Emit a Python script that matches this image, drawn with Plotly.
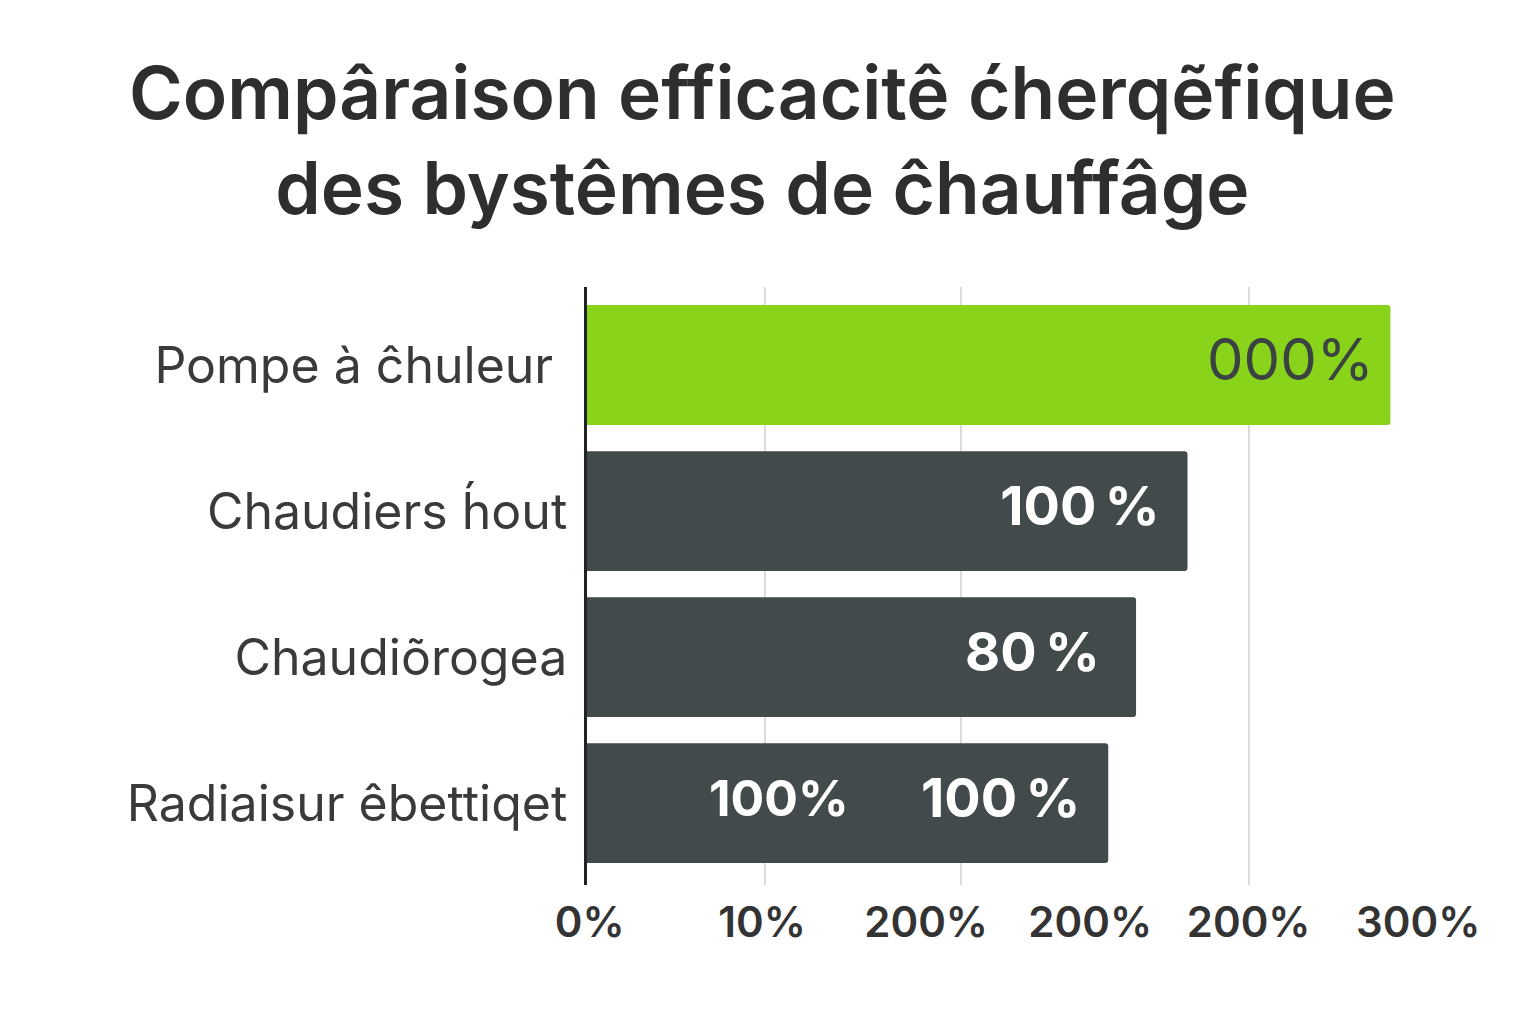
import plotly.graph_objects as go

# data
systems = ["Pompe à ĉhuleur ", "Chaudiers h\u0301out", "Chaudiõrogea", "Radiaisur êbettiqet"]
efficiency = [289, 216, 197.5, 187.5]
bar_labels = ["000%", "100\u202f%", "80\u202f%", "100\u202f%"]
extra_label_system = ["Radiaisur êbettiqet"]
extra_label_value = [69]
extra_label_text = ["100%"]

tick_vals = [1, 63, 122, 181, 238, 299]
tick_text = ["0%", "10%", "200%", "200%", "200%", "300%"]
grid_vals = [64, 134.5, 238, 300]

GREEN = "#8ad31b"
DARK = "#424a4b"
# distance of each value text from its bar end, in axis units
label_pad = [6, 10, 13, 10]

colors = [GREEN if i == 0 else DARK for i in range(len(systems))]

fig = go.Figure()

# bars live on the gridline axis
fig.add_trace(go.Bar(
    y=systems,
    x=efficiency,
    orientation="h",
    width=0.82,
    marker=dict(color=colors, line=dict(width=0), cornerradius=3),
    hoverinfo="skip",
))

# value labels inside the bars, right aligned near the bar end
fig.add_trace(go.Scatter(
    y=systems,
    x=[v - p for v, p in zip(efficiency, label_pad)],
    mode="text",
    text=bar_labels,
    textposition="middle left",
    textfont=dict(
        family="Inter",
        size=[58, 54, 54, 54],
        color=["#3b4242", "white", "white", "white"],
        weight=[400, 700, 700, 700],
    ),
    cliponaxis=False,
    hoverinfo="skip",
    xaxis="x2",
))

fig.add_trace(go.Scatter(
    y=extra_label_system,
    x=extra_label_value,
    mode="text",
    text=extra_label_text,
    textposition="middle center",
    textfont=dict(family="Inter", size=50, color="white", weight=700),
    cliponaxis=False,
    hoverinfo="skip",
    xaxis="x2",
))

fig.update_layout(
    width=1520,
    height=1008,
    paper_bgcolor="white",
    plot_bgcolor="white",
    showlegend=False,
    margin=dict(l=579, r=107, t=279, b=131),
    annotations=[dict(
        text="Compâraison efficacitê ćherqẽfique<br>des bystêmes de ĉhauffâge",
        xref="paper",
        yref="paper",
        x=0.21,
        y=1.245,
        xanchor="center",
        yanchor="middle",
        showarrow=False,
        font=dict(family="Inter", size=73, color="#2e2e2e", weight=600),
    )],
    # gridlines axis
    xaxis=dict(
        range=[0, 300],
        tickvals=grid_vals,
        showticklabels=False,
        showgrid=True,
        gridcolor="#dcdcdc",
        gridwidth=1.5,
        zeroline=False,
        showline=False,
        fixedrange=True,
    ),
    # tick label axis
    xaxis2=dict(
        overlaying="x",
        side="bottom",
        range=[0, 300],
        tickvals=tick_vals,
        ticktext=tick_text,
        showgrid=False,
        zeroline=False,
        showline=False,
        ticks="outside",
        ticklen=1,
        tickcolor="rgba(0,0,0,0)",
        tickfont=dict(family="Inter", size=42, color="#333333", weight=600),
    ),
    yaxis=dict(
        type="category",
        categoryarray=systems,
        range=[3.56, -0.534],
        showgrid=False,
        zeroline=False,
        showline=True,
        linecolor="#222222",
        linewidth=2.5,
        ticks="outside",
        ticklen=7,
        tickcolor="rgba(0,0,0,0)",
        tickfont=dict(family="Inter", size=50, color="#3a3a3a"),
    ),
    bargap=0.18,
)

fig.write_html("out.html")
